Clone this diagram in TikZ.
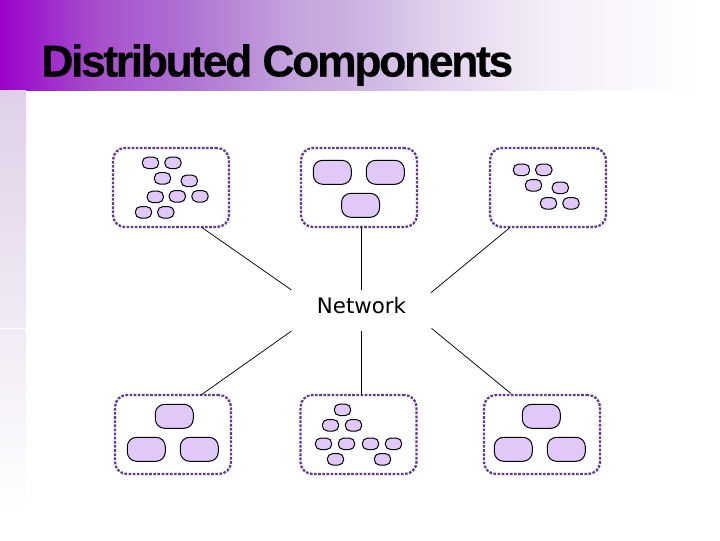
\documentclass[tikz,border=0pt]{standalone}
\usepackage{fontspec}
\setmainfont{DejaVu Sans}
\newfontfamily\titlefont{Liberation Sans Bold}[FakeBold=0.3,LetterSpace=-5.5]
\definecolor{hostline}{HTML}{5F3F8C}
\definecolor{compfill}{HTML}{E0C8F8}
\definecolor{sideband}{HTML}{DFD0E8}
\definecolor{ga}{RGB}{153,0,204}
\definecolor{gb}{RGB}{160,48,204}
\definecolor{gc}{RGB}{168,80,204}
\definecolor{gd}{RGB}{174,112,210}
\definecolor{ge}{RGB}{196,164,222}
\definecolor{gf}{RGB}{205,181,227}
\definecolor{gg}{RGB}{228,213,238}
\definecolor{gh}{RGB}{244,238,248}
\pgfdeclarehorizontalshading{topband}{100bp}{
  color(0bp)=(ga);
  color(25bp)=(ga);
  color(29bp)=(gb);
  color(32bp)=(gc);
  color(38bp)=(gd);
  color(46bp)=(ge);
  color(51bp)=(gf);
  color(57bp)=(gg);
  color(64bp)=(gh);
  color(75bp)=(white);
  color(100bp)=(white)}
\tikzset{
  x=0.75pt,y=-0.75pt,
  hostbox/.style={draw=hostline,line width=1.7pt,dash pattern=on 2pt off 1.1pt,rounded corners=9pt,minimum width=87pt,minimum height=59.25pt,inner sep=0,outer sep=0},
  comp/.style={draw=black,line width=0.75pt,fill=compfill,rounded corners=4pt,inner sep=0,outer sep=0},
  smallcomp/.style={comp,minimum width=12.3pt,minimum height=8.6pt},
  bigcomp/.style={comp,rounded corners=7pt,minimum width=28.5pt,minimum height=18pt},
  biglink/.style={draw=black,line width=0.55pt},
}
\begin{document}
\begin{tikzpicture}
\useasboundingbox (0,0) rectangle (720,540);
\fill[white] (0,0) rectangle (720,540);
\shade[shading=topband] (0,0) rectangle (700,90);
\shade[top color=sideband,bottom color=white] (0,90) rectangle (26,510);
\draw[white,line width=0.5pt] (0,328) -- (26,328);
\node[anchor=base west,inner sep=0,font=\titlefont\fontsize{33.5}{33.5}\selectfont] (title) at (41,76.5) {Distributed Components};
\node[font=\fontsize{16}{16}\selectfont,minimum width=105pt,minimum height=30.75pt,inner sep=0,outer sep=0] (net) at (361.5,310.5) {\raisebox{-1.9pt}[0pt][0pt]{Network}};
% hosts
\node[hostbox] (tl) at (171,187.5) {};
\node[hostbox] (tm) at (359,187.5) {};
\node[hostbox] (tr) at (548,187.5) {};
\node[hostbox] (bl) at (173,434.5) {};
\node[hostbox] (bm) at (358.5,434.5) {};
\node[hostbox] (br) at (542,434.5) {};
% small components, top left
\foreach \n/\cx/\cy in {a/150.5/162.8,b/173/162.8,c/162.5/178.3,d/189.3/180.8,e/155.3/196.8,f/177.3/196.3,g/200/196.3,h/143.5/212.3,i/165.8/212.3}{
  \node[smallcomp] (tl\n) at (\cx,\cy) {};
}
% small components, top right
\foreach \n/\cx/\cy in {a/521.5/169.8,b/543.8/169.8,c/533.5/185.3,d/560.3/187.8,e/548.5/203.3,f/571/203.3}{
  \node[smallcomp] (tr\n) at (\cx,\cy) {};
}
% small components, bottom middle
\foreach \n/\cx/\cy in {a/342.5/409.8,b/330.5/425.3,c/353.5/425.3,d/323.5/443.8,e/346.5/443.8,f/335.5/459.3,g/370.5/443.8,h/393.5/443.8,i/382.5/459.3}{
  \node[smallcomp] (bm\n) at (\cx,\cy) {};
}
% large components
\foreach \n/\cx/\cy in {tma/332.3/172.3,tmb/385.3/172.3,tmc/360.5/205.3,bla/174.3/416.3,blb/146.3/449.3,blc/199.3/449.3,bra/541.3/416.3,brb/513.3/449.3,brc/566.3/449.3}{
  \node[bigcomp] (\n) at (\cx,\cy) {};
}
% connectors
\draw[biglink] ([xshift=23.2pt,yshift=-0.4pt]tl.south) -- (net.north west);
\draw[biglink] ([xshift=1.875pt]tm.south) -- (net.north);
\draw[biglink] ([xshift=-28.5pt,yshift=-0.4pt]tr.south) -- ([xshift=-0.4pt,yshift=-2pt]net.north east);
\draw[biglink] ([xshift=21pt]bl.north) -- (net.south west);
\draw[biglink] ([xshift=2.25pt]bm.north) -- (net.south);
\draw[biglink] ([xshift=-23.2pt,yshift=1pt]br.north) -- ([yshift=2pt]net.south east);
\end{tikzpicture}
\end{document}
